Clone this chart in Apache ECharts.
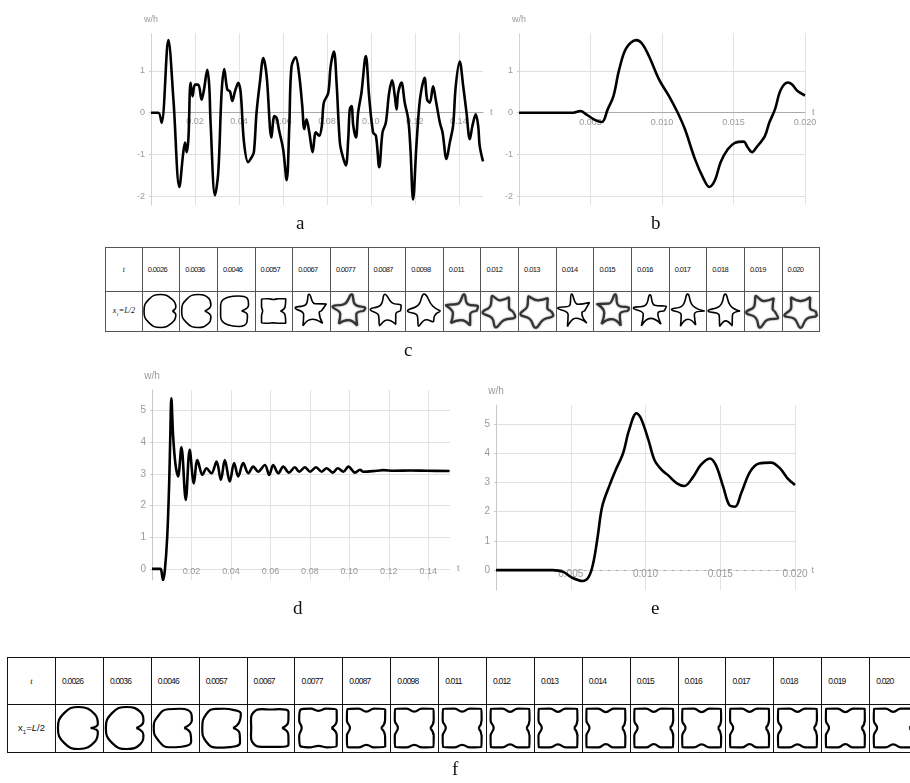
<!DOCTYPE html>
<html><head><meta charset="utf-8">
<script src="https://cdn.jsdelivr.net/npm/echarts@6/dist/echarts.min.js"></script>
<style>
html,body{margin:0;padding:0;width:910px;height:783px;overflow:hidden;background:#fff;}
#chart{position:absolute;left:0;top:0;width:910px;height:783px;z-index:2;}
table{position:absolute;border-collapse:collapse;table-layout:fixed;z-index:1;}
td{padding:0;overflow:hidden;white-space:nowrap;}
#tc{left:105px;top:247px;}
#tc td{border:1px solid #555;font-family:'Liberation Sans',Arial,sans-serif;font-size:7.5px;letter-spacing:-0.6px;padding-left:5px;color:#111;}
#tf{left:7px;top:657px;}
#tf td{border:1.5px solid #111;font-family:'Liberation Sans',Arial,sans-serif;font-size:8.5px;letter-spacing:-0.8px;padding-left:6px;color:#111;}
td.hd{text-align:center;padding-left:0 !important;font-family:'Liberation Serif',serif !important;font-style:italic;letter-spacing:0 !important;}
.lbl{position:absolute;font-family:'Liberation Serif','DejaVu Serif',serif;font-size:19px;z-index:3;color:#111;}
</style></head>
<body>
<table id="tc"></table>
<table id="tf"></table>
<div class="lbl" style="left:296px;top:212px;">a</div>
<div class="lbl" style="left:651px;top:212px;">b</div>
<div class="lbl" style="left:404px;top:339px;">c</div>
<div class="lbl" style="left:293px;top:597px;">d</div>
<div class="lbl" style="left:651px;top:597px;">e</div>
<div class="lbl" style="left:452px;top:758px;">f</div>
<div id="chart"></div>
<script>
// ---------- data ----------
const aT = [0,0.0033,0.0048,0.0079,0.0102,0.0129,0.0147,0.0155,0.0162,0.0170,
 0.0180,0.0189,0.0200,0.0215,0.0230,0.0241,0.0256,0.0265,0.0271,0.0291,
 0.0306,0.0321,0.0333,0.0347,0.0359,0.0370,0.0382,0.0397,0.0408,0.0423,
 0.0442,0.0458,0.0468,0.0480,0.0495,0.0511,0.0526,0.0548,0.0561,0.0571,
 0.0583,0.0601,0.0617,0.0629,0.0639,0.0658,0.0673,0.0688,0.0697,0.0707,
 0.0720,0.0735,0.0750,0.0765,0.0777,0.0786,0.0806,0.0817,0.0832,0.0844,
 0.0859,0.0871,0.0886,0.0897,0.0904,0.0912,0.0920,0.0932,0.0942,0.0957,
 0.0977,0.0992,0.1010,0.1023,0.1038,0.1053,0.1068,0.1083,0.1097,0.1109,
 0.1117,0.1124,0.1139,0.1154,0.1170,0.1180,0.1192,0.1207,0.1220,0.1230,
 0.1244,0.1256,0.1268,0.1283,0.1295,0.1314,0.1326,0.1344,0.1359,0.1374,
 0.1386,0.1404,0.1420,0.1435,0.1450,0.1462,0.1477,0.1488,0.1495,0.1510];
const aV = [0,0,-0.24,1.73,0.31,-1.77,-0.94,-0.71,-0.94,-0.63,
 0.71,0.39,0.67,0.67,0.31,0.55,1.02,0.63,-0.24,-1.97,
 -1.42,0.47,1.04,0.55,0.51,0.28,0.51,0.71,0.47,-0.71,
 -1.18,-1.06,-0.94,0,0.71,1.30,0.87,-0.59,-0.08,-0.12,
 -0.43,-0.87,-1.61,-0.31,1.10,1.32,0.94,0.16,-0.39,-0.16,
 -0.47,-0.94,-0.47,-0.55,-0.31,0.24,0.47,1.10,1.46,0.71,
 -0.71,-1.02,-1.26,-0.63,0.08,0.16,-0.31,-0.59,0,0.47,
 1.35,0.39,-0.47,-0.55,-1.30,-0.47,-0.24,0.47,0.77,0.39,
 0.08,0.47,0.72,0.24,-0.16,-0.87,-2.07,-0.79,0.16,0.55,
 0.83,0.31,0.24,0.63,0.31,-0.24,-0.47,-1.10,-0.71,-0.31,
 0.63,1.22,0.63,0,-0.63,-0.31,-0.04,-0.31,-0.79,-1.16];

const bT = [0,0.0038,0.0043,0.0047,0.0053,0.0058,0.0062,0.0066,0.0070,0.0075,
 0.0082,0.0086,0.0091,0.0098,0.0105,0.0111,0.0116,0.0123,0.0129,0.0133,
 0.0137,0.0141,0.0146,0.0151,0.0157,0.0160,0.0163,0.0166,0.0172,0.0175,
 0.0179,0.0183,0.0188,0.0191,0.0195,0.0200];
const bV = [0,0,0.04,-0.04,-0.17,-0.22,0.08,0.39,1.02,1.54,
 1.73,1.65,1.34,0.79,0.39,0,-0.39,-1.10,-1.57,-1.77,
 -1.61,-1.18,-0.87,-0.72,-0.69,-0.83,-0.94,-0.83,-0.55,-0.24,
 0.08,0.54,0.72,0.67,0.51,0.41];

const dT = [0,0.0042,0.0051,0.0056,0.0065,0.0077,0.0087,0.0093,0.0098,0.0107,
 0.0119,0.0132,0.0149,0.0171,0.0191,0.0212,0.0230,0.0256,0.0276,0.0301,
 0.0327,0.0349,0.0369,0.0394,0.0416,0.0437,0.0462,0.0488,0.0513,0.0538,
 0.0572,0.0594,0.0614,0.0640,0.0665,0.0694,0.0724,0.0746,0.0775,0.0801,
 0.0831,0.0860,0.0885,0.0916,0.0941,0.0970,0.0995,0.1029,0.1054,0.1071,
 0.1139,0.1173,0.1224,0.1309,0.1393,0.1508];
const dV = [0,0,-0.2,-0.35,-0.05,1.0,2.7,4.3,5.39,4.2,
 3.3,2.92,3.84,2.18,3.76,2.7,3.44,2.97,3.18,3.02,
 3.39,2.81,3.44,2.76,3.34,2.92,3.34,3.02,3.23,3.07,
 3.28,2.97,3.28,3.02,3.23,3.04,3.21,3.07,3.21,3.07,
 3.21,3.07,3.18,3.04,3.18,3.07,3.23,3.04,3.13,3.07,
 3.1,3.12,3.1,3.11,3.1,3.09];

const eT = [0,0.0038,0.0045,0.0051,0.0058,0.0062,0.0065,0.0068,0.0071,0.0076,
 0.0080,0.0085,0.0089,0.0094,0.0097,0.0102,0.0106,0.0111,0.0115,0.0121,
 0.0126,0.0132,0.0137,0.0143,0.0147,0.0152,0.0156,0.0160,0.0164,0.0170,
 0.0176,0.0184,0.0190,0.0195,0.0200];
const eV = [0,0,-0.06,-0.26,-0.37,-0.23,0.23,1.14,2.17,2.91,
 3.42,4.0,4.79,5.37,5.19,4.45,3.77,3.42,3.25,2.97,
 2.88,3.2,3.6,3.82,3.6,2.85,2.23,2.17,2.63,3.37,
 3.65,3.68,3.48,3.14,2.91];

const aTicksX = [0.02,0.04,0.06,0.08,0.10,0.12,0.14];
const bTicksX = [0.005,0.010,0.015,0.020];
const abTicksY = [-2,-1,0,1];
const deTicksY = [0,1,2,3,4,5];

const times = ['0.0026','0.0036','0.0046','0.0057','0.0067','0.0077','0.0087','0.0098','0.011',
 '0.012','0.013','0.014','0.015','0.016','0.017','0.018','0.019','0.020'];

// shapes: [angle(deg, ccw from east), relative radius]
const cShapes = [
 [[0,.72],[15,.96],[45,1],[90,1],[135,1],[180,1],[225,1],[270,1],[315,1],[345,.96]],
 [[0,.4],[25,.85],[50,1],[90,1],[135,1],[180,1],[225,1],[270,1],[310,.98],[335,.85]],
 [[0,.35],[25,.85],[50,1.04],[80,.92],[120,.96],[160,.98],[200,.98],[240,.97],[280,.95],[315,.95],[340,.75]],
 [[0,.42],[20,.75],[45,1.05],[68,.8],[90,.7],[112,.8],[135,1.02],[158,.78],[180,.66],[202,.78],[225,1.02],[248,.8],[270,.72],[292,.8],[315,1.05],[340,.75]],
 [[0,.62],[25,1.02],[61,.5],[97,1.02],[133,.5],[169,.98],[205,.5],[241,1.02],[277,.5],[313,1.02],[349,.5]],
 [[0,.9],[10,1.02],[45,.55],[80,1.02],[120,.5],[165,1.02],[200,.55],[232,.98],[265,.55],[300,1.02],[335,.5]],
 [[0,.85],[20,.95],[55,.6],[95,1.02],[135,.5],[175,.98],[210,.55],[245,.98],[275,.55],[305,.98],[340,.6]],
 [[0,1],[30,.6],[90,1.02],[135,.5],[180,1],[215,.5],[250,.98],[285,.55],[310,.85],[335,.7]],
 [[0,.9],[15,1.02],[48,.55],[82,1.02],[120,.5],[160,1.02],[195,.55],[228,.98],[264,.55],[300,1.02],[338,.55]],
 [[0,.8],[20,.62],[55,1.02],[85,.65],[115,1.02],[150,.62],[185,1.02],[222,.62],[258,1.02],[295,.62],[340,1.02]],
 [[0,.85],[17,.65],[50,1.02],[85,.65],[120,1.02],[155,.65],[190,1.02],[228,.65],[265,1.02],[305,.65],[345,1.02]],
 [[0,.6],[30,1.04],[65,.45],[100,1.04],[135,.45],[170,1.04],[208,.45],[245,1.04],[280,.45],[315,1.04],[345,.45]],
 [[0,.95],[10,1.02],[45,.5],[80,1.02],[118,.5],[155,1.02],[192,.5],[230,1.02],[265,.5],[300,1.02],[335,.5]],
 [[0,.85],[15,1.02],[52,.45],[90,.98],[130,.45],[170,1.02],[205,.45],[240,1.04],[275,.45],[310,1.04],[343,.5]],
 [[0,1.04],[45,.45],[90,1.02],[135,.45],[175,.98],[210,.45],[245,1.02],[272,.5],[300,.98],[335,.45]],
 [[0,.9],[45,.45],[90,1.02],[135,.45],[180,1.04],[215,.45],[250,.98],[272,.6],[295,.98],[330,.5]],
 [[0,.7],[12,.6],[50,1.02],[83,.6],[115,1.02],[150,.6],[185,1.02],[222,.6],[260,1.02],[298,.6],[335,1.02]],
 [[0,.9],[20,.6],[55,1.02],[90,.6],[125,1.02],[160,.6],[195,1.02],[232,.6],[270,1.02],[308,.6],[345,1.02]]
];
const cBlurred = [5,8,9,10,12,16,17];

const fShapes = [
 [[0,.55],[12,.92],[40,1],[90,1],[135,1],[180,1],[225,1],[270,1],[320,1],[348,.92]],
 [[0,.45],[22,.85],[50,1],[90,1],[135,1],[180,1],[225,1],[270,1],[310,1],[338,.85]],
 [[0,.45],[25,.9],[42,1.05],[75,.95],[110,.95],[150,.98],[180,1],[215,.98],[255,.95],[290,.95],[320,1.02],[340,.8]],
 [[0,.5],[20,.85],[38,1.1],[60,1.0],[85,.92],[110,.97],[140,1.02],[180,.97],[220,1.02],[255,.97],[290,.97],[320,1.08],[342,.85]],
 [[0,.55],[20,.9],[42,1.15],[65,.99],[90,.88],[115,.99],[138,1.1],[160,.99],[180,.92],[200,.99],[222,1.1],[245,.99],[270,.9],[295,.99],[318,1.15],[340,.9]],
 [[0,.62],[22,.94],[45,1.22],[68,.99],[90,.82],[112,.99],[135,1.22],[158,.99],[180,.8],[202,.99],[225,1.22],[248,.99],[270,.85],[292,.99],[315,1.22],[338,.94]],
 [[0,.7],[22,.96],[45,1.27],[68,1.0],[90,.78],[112,1.0],[135,1.27],[158,1.0],[180,.78],[202,1.0],[225,1.27],[248,1.0],[270,.8],[292,1.0],[315,1.27],[338,.96]],
 [[0,.76],[22,1.0],[45,1.28],[68,1.0],[90,.78],[112,1.0],[135,1.28],[158,1.0],[180,.78],[202,1.0],[225,1.28],[248,1.0],[270,.8],[292,1.0],[315,1.28],[338,1.0]],
 [[0,.78],[22,1.0],[45,1.28],[68,1.0],[90,.78],[112,1.0],[135,1.28],[158,1.0],[180,.78],[202,1.0],[225,1.28],[248,1.0],[270,.8],[292,1.0],[315,1.28],[338,1.0]],
 [[0,.78],[22,1.0],[45,1.29],[68,1.0],[90,.77],[112,1.0],[135,1.29],[158,1.0],[180,.78],[202,1.0],[225,1.29],[248,1.0],[270,.78],[292,1.0],[315,1.29],[338,1.0]],
 [[0,.77],[22,1.0],[45,1.29],[68,1.0],[90,.77],[112,1.0],[135,1.29],[158,1.0],[180,.77],[202,1.0],[225,1.29],[248,1.0],[270,.78],[292,1.0],[315,1.29],[338,1.0]],
 [[0,.78],[22,1.0],[45,1.3],[68,1.0],[90,.76],[112,1.0],[135,1.3],[158,1.0],[180,.78],[202,1.0],[225,1.3],[248,1.0],[270,.77],[292,1.0],[315,1.3],[338,1.0]],
 [[0,.77],[22,1.0],[45,1.29],[68,1.0],[90,.77],[112,1.0],[135,1.29],[158,1.0],[180,.77],[202,1.0],[225,1.29],[248,1.0],[270,.77],[292,1.0],[315,1.29],[338,1.0]],
 [[0,.78],[22,1.0],[45,1.29],[68,1.0],[90,.76],[112,1.0],[135,1.29],[158,1.0],[180,.77],[202,1.0],[225,1.29],[248,1.0],[270,.78],[292,1.0],[315,1.29],[338,1.0]],
 [[0,.77],[22,1.0],[45,1.3],[68,1.0],[90,.77],[112,1.0],[135,1.3],[158,1.0],[180,.78],[202,1.0],[225,1.3],[248,1.0],[270,.77],[292,1.0],[315,1.3],[338,1.0]],
 [[0,.78],[22,1.0],[45,1.29],[68,1.0],[90,.77],[112,1.0],[135,1.29],[158,1.0],[180,.77],[202,1.0],[225,1.29],[248,1.0],[270,.78],[292,1.0],[315,1.29],[338,1.0]],
 [[0,.77],[22,1.0],[45,1.3],[68,1.0],[90,.76],[112,1.0],[135,1.3],[158,1.0],[180,.78],[202,1.0],[225,1.3],[248,1.0],[270,.77],[292,1.0],[315,1.3],[338,1.0]],
 [[0,.78],[22,1.0],[45,1.29],[68,1.0],[90,.77],[112,1.0],[135,1.29],[158,1.0],[180,.77],[202,1.0],[225,1.29],[248,1.0],[270,.78],[292,1.0],[315,1.29],[338,1.0]]
];

// ---------- layout ----------
const C = {left:105, top:247, firstW:36.7, colW:37.65, h1:44, h2:40, unit:16.5};
const F = {left:7, top:657, firstW:48, colW:47.9, h1:47, h2:48, unit:21};
const G = [
  {left:151, top:33, width:332, height:172},
  {left:519, top:33, width:286, height:172},
  {left:152, top:390, width:298, height:190},
  {left:496, top:405, width:299, height:185}
];
const YR = [[-2.2,1.9],[-2.2,1.9],[-0.35,5.65],[-0.68,5.65]];

function buildTable(id, L, rowLabel) {
  const t = document.getElementById(id);
  let html = '<colgroup><col style="width:'+L.firstW+'px">';
  times.forEach(()=>{ html += '<col style="width:'+L.colW+'px">'; });
  html += '</colgroup><tr style="height:'+L.h1+'px"><td class="hd">t</td>';
  times.forEach(s=>{ html += '<td>'+s+'</td>'; });
  html += '</tr><tr style="height:'+L.h2+'px"><td class="hd">'+rowLabel+'</td>';
  times.forEach(()=>{ html += '<td></td>'; });
  html += '</tr>';
  t.innerHTML = html;
  t.style.width = (L.firstW + L.colW*times.length) + 'px';
}
buildTable('tc', C, '<span style="font-size:8px">x<sub style="font-size:5px">1</sub>=L/2</span>');
buildTable('tf', F, '<span style="font-size:9.5px;font-style:normal;font-family:Liberation Sans">x<sub style="font-size:6px">1</sub>=<i>L</i>/2</span>');

// ---------- chart ----------
const gray = '#9a9a9a';
function xAxis(gi, max, ticks, dec, o) {
  const [mn, mx] = YR[gi];
  const off = -G[gi].height * (-mn) / (mx - mn);
  return {gridIndex:gi, type:'value', min:0, max:max, position:'bottom', offset:off,
    name:'t', nameLocation:'end', nameGap:7,
    nameTextStyle:{color:gray, fontSize:9, padding:[0,0,6,0]},
    axisLine:{show:o.line, onZero:false, lineStyle:{color:'#aaa', width:1, type: o.dashed?[2,6]:'solid'}},
    axisTick:{show:false, customValues:ticks},
    axisLabel:{customValues:ticks, formatter:v=>v.toFixed(dec), color:gray, fontSize:o.fs, margin:o.margin, fontFamily:'Liberation Sans'},
    splitLine:{show:true, lineStyle:{color:'#e2e2e2', width:1}}};
}
function yAxis(gi, ticks, fs, dotted) {
  return {gridIndex:gi, type:'value', min:YR[gi][0], max:YR[gi][1], name:'w/h', nameLocation:'end', nameGap:9,
    nameTextStyle:{color:gray, fontSize:fs, align:'center'},
    axisLine:{show:true, onZero:false, lineStyle:{color:'#c8c8c8', type: dotted?'dotted':'solid'}},
    axisTick:{show:true, length:2, customValues:ticks, lineStyle:{color:'#ccc'}},
    axisLabel:{customValues:ticks, color:gray, fontSize:fs, margin:6, fontFamily:'Liberation Sans'},
    splitLine:{show:true, lineStyle:{color:'#e0e0e0', width:1}}};
}
const pairs = (T,V)=>T.map((t,i)=>[t,V[i]]);
const lineSeries = (gi, T, V) => ({type:'line', xAxisIndex:gi, yAxisIndex:gi, data:pairs(T,V),
  smooth:0.35, symbol:'none', lineStyle:{color:'#000', width:2.6}, silent:true, z:5});

const polar = [], angleAxis = [], radiusAxis = [], series = [];
series.push(lineSeries(0,aT,aV), lineSeries(1,bT,bV), lineSeries(2,dT,dV), lineSeries(3,eT,eV));

function addShapes(shapes, L, styleFn) {
  shapes.forEach((sh, i) => {
    const idx = polar.length;
    const cx = L.left + L.firstW + (i + 0.5) * L.colW;
    const cy = L.top + L.h1 + L.h2 / 2;
    polar.push({center:[cx, cy], radius: L.unit * 1.5});
    angleAxis.push({polarIndex:idx, type:'value', min:0, max:360, startAngle:0, clockwise:false, show:false,
      axisLine:{show:false}, splitLine:{show:false}, axisTick:{show:false}, axisLabel:{show:false}});
    radiusAxis.push({polarIndex:idx, type:'value', min:0, max:1.5, show:false,
      axisLine:{show:false}, splitLine:{show:false}, axisTick:{show:false}, axisLabel:{show:false}});
    const pts = sh.map(p => [p[1], p[0]]);
    pts.push([sh[0][1], 360]);
    series.push({type:'line', coordinateSystem:'polar', polarIndex:idx, data:pts, smooth:0.5,
      symbol:'none', clip:false, silent:true, lineStyle:styleFn(i), z:6});
  });
}
addShapes(cShapes, C, i => cBlurred.includes(i)
  ? {color:'#333', width:2.2, shadowBlur:2, shadowColor:'rgba(0,0,0,0.5)'}
  : {color:'#000', width:1.6});
addShapes(fShapes, F, () => ({color:'#000', width:2.2}));

const chart = echarts.init(document.getElementById('chart'), null, {renderer:'canvas'});
chart.setOption({
  animation:false,
  backgroundColor:'transparent',
  grid:G,
  xAxis:[
    xAxis(0, 0.151, aTicksX, 2, {line:true, dashed:false, fs:9, margin:4}),
    xAxis(1, 0.020, bTicksX, 3, {line:true, dashed:false, fs:9, margin:5}),
    xAxis(2, 0.151, aTicksX, 2, {line:false, dashed:false, fs:9, margin:-2}),
    xAxis(3, 0.020, bTicksX, 3, {line:true, dashed:true, fs:10, margin:-1})
  ],
  yAxis:[
    yAxis(0, abTicksY, 9, true),
    yAxis(1, abTicksY, 9, true),
    yAxis(2, deTicksY, 10, false),
    yAxis(3, deTicksY, 10, false)
  ],
  polar, angleAxis, radiusAxis, series
});
</script>
</body></html>
